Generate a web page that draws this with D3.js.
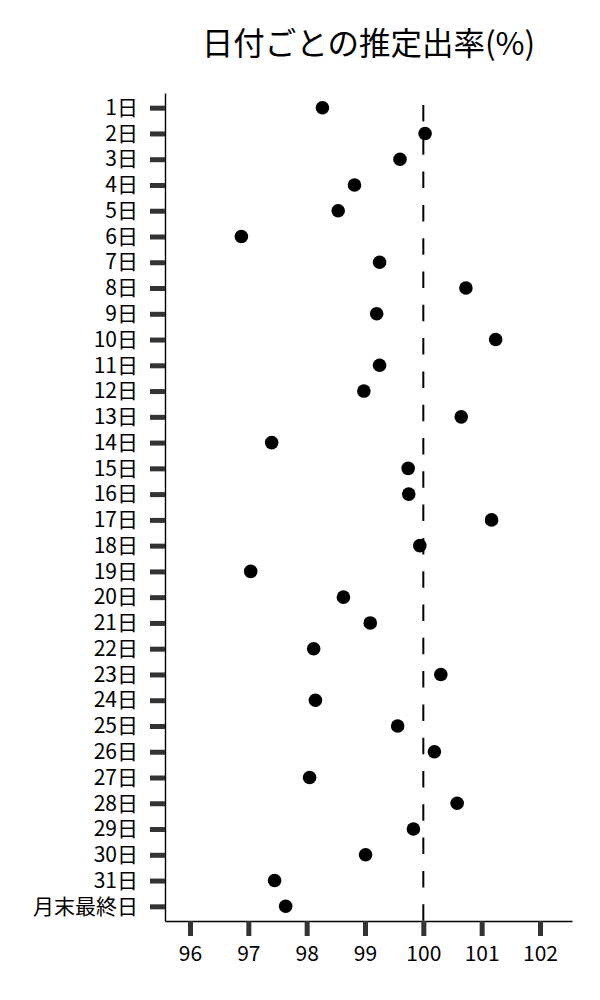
<!DOCTYPE html>
<html>
<head>
<meta charset="utf-8">
<script src="https://cdn.jsdelivr.net/npm/d3@7"></script>
<style>
  body { margin: 0; background: #fff; }
  svg { display: block; font-family: "Noto Sans CJK JP", "Noto Sans", sans-serif; }
</style>
</head>
<body>
<div id="chart"></div>
<script>
// Day labels (top to bottom)
const days = [
  '1日', '2日', '3日', '4日', '5日', '6日', '7日', '8日', '9日', '10日',
  '11日', '12日', '13日', '14日', '15日', '16日', '17日', '18日', '19日', '20日',
  '21日', '22日', '23日', '24日', '25日', '26日', '27日', '28日', '29日', '30日',
  '31日', '月末最終日'
];

// Estimated rate (%) for each day
const rates = [
  98.27, 100.03, 99.60, 98.82, 98.54, 96.88, 99.25, 100.73, 99.20, 101.24,
  99.25, 98.98, 100.65, 97.40, 99.74, 99.75, 101.17, 99.94, 97.04, 98.63,
  99.09, 98.12, 100.30, 98.15, 99.56, 100.19, 98.05, 100.58, 99.83, 99.01,
  97.45, 97.64
];

const xTicks = [96, 97, 98, 99, 100, 101, 102];
const xDomain = [95.571, 102.549];
const referenceValue = 100;
const title = '日付ごとの推定出率(%)';

const width = 600;
const height = 1000;
const margin = { top: 93, right: 28, bottom: 79, left: 165 };

const svg = d3.select('#chart')
  .append('svg')
  .attr('width', width)
  .attr('height', height);

const x = d3.scaleLinear()
  .domain(xDomain)
  .range([margin.left, width - margin.right]);

const y = d3.scalePoint()
  .domain(days)
  .range([margin.top, height - margin.bottom])
  .padding(0.57);

// Title, centred over the plot area
svg.append('text')
  .attr('x', (margin.left + width - margin.right) / 2)
  .attr('y', 55)
  .attr('text-anchor', 'middle')
  .style('font-size', '31.5px')
  .attr('fill', '#000')
  .text(title);

// Reference line at 100%
svg.append('line')
  .attr('x1', x(referenceValue))
  .attr('x2', x(referenceValue))
  .attr('y1', y(days[0]) - 2.7)
  .attr('y2', height - margin.bottom)
  .attr('stroke', '#000')
  .attr('stroke-width', 2)
  .attr('stroke-dasharray', '16.5,16.8');

// X axis
const xAxis = svg.append('g')
  .attr('transform', `translate(0,${height - margin.bottom})`)
  .call(d3.axisBottom(x).tickValues(xTicks).tickFormat(d3.format('d'))
    .tickSize(15).tickSizeOuter(0).tickPadding(10));

// Y axis
const yAxis = svg.append('g')
  .attr('transform', `translate(${margin.left},0)`)
  .call(d3.axisLeft(y).tickSize(15).tickSizeOuter(0).tickPadding(12));

[xAxis, yAxis].forEach(g => {
  g.attr('font-size', null).attr('font-family', null);
  g.select('.domain').attr('stroke', '#000').attr('stroke-width', 1.4);
  g.selectAll('.tick line').attr('stroke', '#333').attr('stroke-width', 5);
  g.selectAll('.tick text')
    .attr('fill', '#000')
    .style('font-size', '21px')
    .style('font-family', '"Noto Sans CJK JP", sans-serif');
});

// Points
svg.append('g')
  .selectAll('circle')
  .data(days.map((d, i) => ({ day: d, rate: rates[i] })))
  .join('circle')
  .attr('cx', d => x(d.rate))
  .attr('cy', d => y(d.day))
  .attr('r', 6.8)
  .attr('fill', '#000');
</script>
</body>
</html>
